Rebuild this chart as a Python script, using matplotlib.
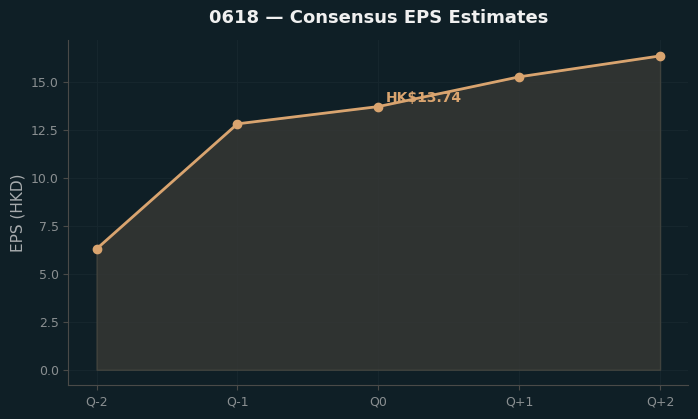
import matplotlib
matplotlib.use("Agg")
import matplotlib.pyplot as plt

quarters = ["Q-2", "Q-1", "Q0", "Q+1", "Q+2"]
eps = [6.30, 12.82, 13.72, 15.27, 16.36]
label_text = "HK$13.74"
label_idx = 2

bg = "#0f1f26"
line_c = "#d9a46f"
fill_c = "#3a3a36"
spine_c = "#4a4a48"
tick_c = "#8a8f91"

fig, ax = plt.subplots(figsize=(6.98, 4.19), dpi=100)
fig.patch.set_facecolor(bg)
ax.set_facecolor(bg)

x = list(range(len(quarters)))
ax.fill_between(x, eps, 0, color=fill_c, alpha=0.75, edgecolor="#4a4a42", linewidth=1)
ax.plot(x, eps, color=line_c, linewidth=2, marker="o", markersize=6)
ax.annotate(label_text, (x[label_idx], eps[label_idx]), xytext=(5, 3),
            textcoords="offset points", color=line_c, fontsize=10, fontweight="bold")

ax.set_xticks(x)
ax.set_xticklabels(quarters)
ax.set_xlim(-0.2, 4.2)
ax.set_ylim(-0.82, 17.2)
ax.set_yticks([0, 2.5, 5, 7.5, 10, 12.5, 15])
ax.set_ylabel("EPS (HKD)", color="#a8acae", fontsize=11)
ax.set_title("0618 — Consensus EPS Estimates", color="#f0f0f0", fontsize=13,
             fontweight="bold", pad=12)
ax.tick_params(colors=spine_c, labelcolor=tick_c, labelsize=9)
for s in ["top", "right"]:
    ax.spines[s].set_visible(False)
for s in ["left", "bottom"]:
    ax.spines[s].set_color(spine_c)
ax.grid(True, color="#16262d", linewidth=0.8)
ax.set_axisbelow(True)

fig.subplots_adjust(left=0.098, right=0.986, top=0.905, bottom=0.08)
fig.savefig("out.png", dpi=100, facecolor=bg)
